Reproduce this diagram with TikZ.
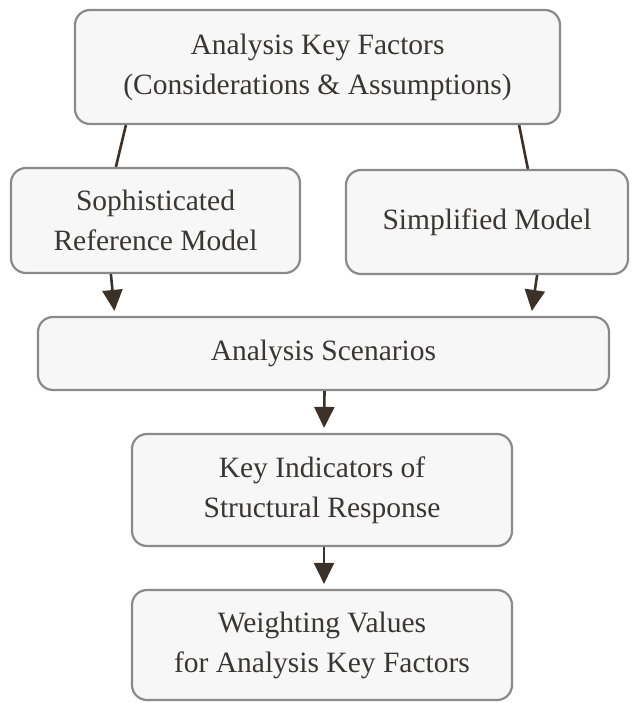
\documentclass[tikz,border=0pt]{standalone}
\usepackage{fontspec}
\setmainfont{Liberation Serif}
\usetikzlibrary{arrows.meta,calc}
\definecolor{boxgray}{HTML}{8A8A8A}
\definecolor{boxfill}{HTML}{F7F7F7}
\definecolor{txt}{HTML}{3A3632}
\definecolor{linec}{HTML}{3B3128}
\tikzset{
  fbox/.style={draw=boxgray, line width=2.2pt, rounded corners=15pt, fill=boxfill,
    text=txt, align=center, inner sep=0pt,
    font=\fontsize{29.5}{40}\selectfont},
  conn/.style={draw=linec, line width=2.6pt},
  arr/.style={conn, -{Triangle[width=20pt,length=21pt]}, shorten >=5pt}
}
\begin{document}
\begin{tikzpicture}[x=1pt,y=-1pt]
\useasboundingbox (0,0) rectangle (635,703);
\fill[white] (0,0) rectangle (635,703);
\node[fbox, minimum width=485pt, minimum height=114pt] (top) at (317.5,67)
  {Analysis Key Factors\\(Considerations \& Assumptions)};
\node[fbox, minimum width=289pt, minimum height=105pt] (left) at (155.5,220.5)
  {Sophisticated\\Reference Model};
\node[fbox, minimum width=282pt, minimum height=104pt] (right) at (487,222)
  {Simplified Model};
\node[fbox, minimum width=571pt, minimum height=73pt] (scen) at (323.5,353.5)
  {Analysis Scenarios};
\node[fbox, minimum width=380pt, minimum height=112pt] (key) at (322,490)
  {Key Indicators of\\Structural Response};
\node[fbox, minimum width=380pt, minimum height=110pt] (weight) at (322,645)
  {Weighting Values\\for Analysis Key Factors};
\draw[conn] ([xshift=52pt]top.south west) -- ([xshift=106pt]left.north west);
\draw[conn] ([xshift=-42pt]top.south east) -- ([xshift=183pt]right.north west);
\draw[arr] ([xshift=101pt]left.south west) -- ([xshift=78pt]scen.north west);
\draw[arr] ([xshift=-92pt]right.south east) -- ([xshift=-79pt]scen.north east);
\draw[arr] ([xshift=1pt]scen.south) -- ([xshift=2pt]key.north);
\draw[arr] ([xshift=2pt]key.south) -- ([xshift=2pt]weight.north);
\end{tikzpicture}
\end{document}
